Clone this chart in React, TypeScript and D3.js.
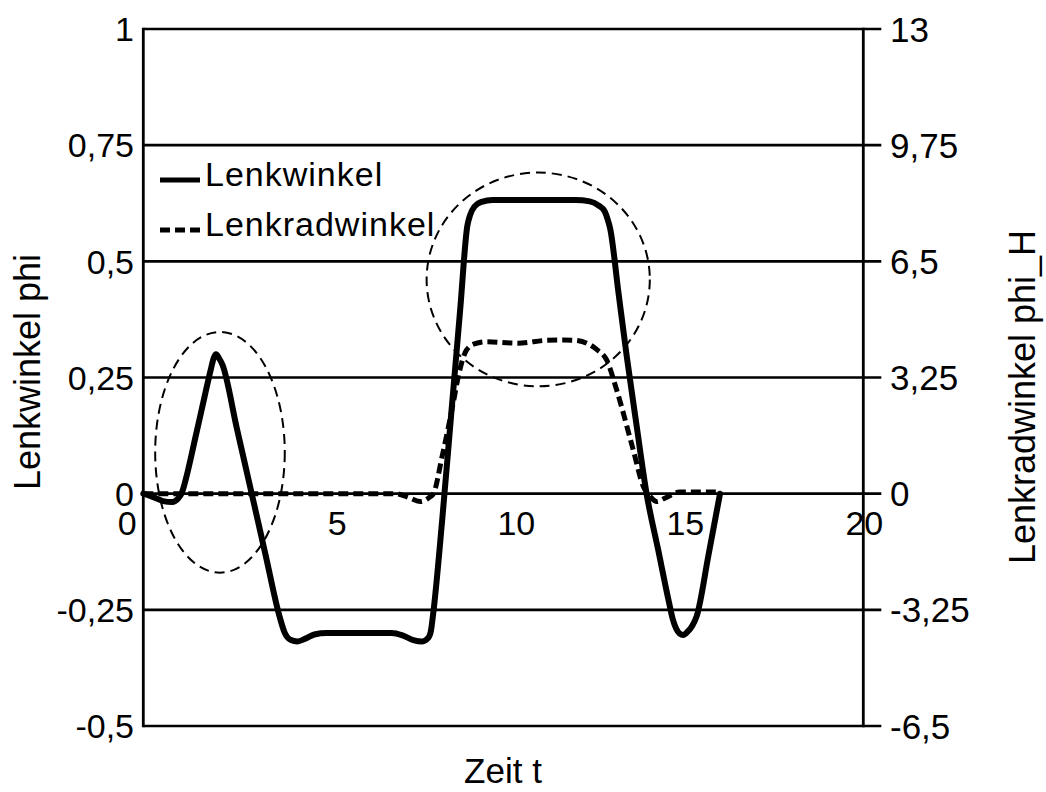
import React from "react";
import * as d3 from "d3";

// ---- data ----
const xTicks = [0, 5, 10, 15, 20];
const xTickLabels = ["0", "5", "10", "15", "20"];
const leftTicks = [-0.5, -0.25, 0, 0.25, 0.5, 0.75, 1];
const leftTickLabels = ["-0,5", "-0,25", "0", "0,25", "0,5", "0,75", "1"];
const rightTicks = [-6.5, -3.25, 0, 3.25, 6.5, 9.75, 13];
const rightTickLabels = ["-6,5", "-3,25", "0", "3,25", "6,5", "9,75", "13"];

// Lenkwinkel (left axis)
const lenkT = [0, 0.3, 0.55, 0.8, 0.97, 1.08, 1.2, 1.45, 1.7, 1.88, 1.96, 2.02, 2.1, 2.2, 2.6, 3.0, 3.4, 3.78, 3.92, 4.1, 4.28, 4.5, 4.75, 5.1, 6.9, 7.2, 7.5, 7.75, 7.92, 7.99, 8.05, 8.3, 8.55, 8.8, 9.0, 9.08, 9.2, 9.4, 9.7, 12.0, 12.4, 12.65, 12.82, 12.9, 12.97, 13.2, 13.43, 13.7, 13.98, 14.3, 14.6, 14.7, 14.8, 14.9, 15.0, 15.12, 15.25, 15.37, 15.7, 16.02];
const lenkV = [0, -0.008, -0.016, -0.018, -0.01, 0.004, 0.037, 0.122, 0.208, 0.269, 0.293, 0.3, 0.292, 0.277, 0.14, 0.004, -0.133, -0.263, -0.298, -0.315, -0.318, -0.312, -0.303, -0.3, -0.3, -0.305, -0.315, -0.318, -0.31, -0.295, -0.26, -0.059, 0.168, 0.394, 0.576, 0.6, 0.618, 0.628, 0.632, 0.632, 0.629, 0.62, 0.607, 0.59, 0.57, 0.432, 0.295, 0.148, 0.0, -0.12, -0.233, -0.268, -0.29, -0.301, -0.304, -0.297, -0.284, -0.264, -0.132, 0];

// Lenkradwinkel (right axis)
const radT = [0, 7.0, 7.4, 7.7, 7.95, 8.06, 8.3, 8.61, 8.75, 8.98, 9.2, 9.54, 10.4, 11.2, 11.67, 12.0, 12.32, 12.6, 12.87, 13.15, 13.61, 13.89, 14.1, 14.26, 14.5, 14.9, 16.0];
const radV = [0, 0, -0.12, -0.22, -0.1, 0, 1.04, 2.54, 3.28, 4.02, 4.19, 4.25, 4.21, 4.29, 4.3, 4.29, 4.21, 4.03, 3.74, 2.9, 1.22, 0.2, -0.1, -0.22, -0.12, 0.05, 0.05];

// highlight ellipses (centre t, centre left value, radius t, radius value)
const ellipseT = [2.13, 10.97];
const ellipseV = [0.089, 0.461];
const ellipseRT = [1.8, 3.1];
const ellipseRV = [0.259, 0.23];

const legendLabels = ["Lenkwinkel", "Lenkradwinkel"];

// ---- layout ----
const W = 1046;
const H = 792;
const L = 143.3;
const R = 863.3;
const T = 29;
const B = 726;
const FONT = "'Liberation Sans', Arial, Helvetica, sans-serif";
const xLabelDx = [-16, 14, 13, 2, 1];

export default function App() {
  const x = d3.scaleLinear().domain([0, 20]).range([L, R]);
  const yL = d3.scaleLinear().domain([-0.5, 1]).range([B, T]);
  const yR = d3.scaleLinear().domain([-6.5, 13]).range([B, T]);

  const lenkData = lenkT.map((t, i) => [t, lenkV[i]] as [number, number]);
  const radData = radT.map((t, i) => [t, radV[i]] as [number, number]);

  const lineL = d3
    .line<[number, number]>()
    .x((d) => x(d[0]))
    .y((d) => yL(d[1]))
    .curve(d3.curveMonotoneX);
  const lineR = d3
    .line<[number, number]>()
    .x((d) => x(d[0]))
    .y((d) => yR(d[1]))
    .curve(d3.curveMonotoneX);

  return (
    <svg
      width={W}
      height={H}
      style={{ position: "absolute", left: 0, top: 0, display: "block", background: "#fff" }}
      fontFamily={FONT}
    >
      <rect x={0} y={0} width={W} height={H} fill="#fff" />
      {/* horizontal grid lines, extended as right ticks */}
      {leftTicks.map((v) => (
        <line key={"g" + v} x1={L} x2={R + 18} y1={yL(v)} y2={yL(v)} stroke="#000" strokeWidth={2.6} />
      ))}
      {/* axes */}
      <line x1={L} x2={L} y1={T - 1.3} y2={B + 1.3} stroke="#000" strokeWidth={2.8} />
      <line x1={R} x2={R} y1={T - 1.3} y2={B + 1.3} stroke="#000" strokeWidth={2.8} />

      {/* left tick labels */}
      {leftTicks.map((v, i) => (
        <text key={"lt" + v} x={134} y={yL(v)} dy="0.36em" textAnchor="end" fontSize={34}>
          {leftTickLabels[i]}
        </text>
      ))}
      {/* right tick labels */}
      {rightTicks.map((v, i) => (
        <text key={"rt" + v} x={890} y={yR(v)} dy="0.36em" textAnchor="start" fontSize={35}>
          {rightTickLabels[i]}
        </text>
      ))}
      {/* x tick labels */}
      {xTicks.map((t, i) => (
        <text key={"xt" + t} x={x(t) + xLabelDx[i]} y={535} textAnchor="middle" fontSize={34}>
          {xTickLabels[i]}
        </text>
      ))}

      {/* ellipses */}
      {ellipseT.map((t, i) => (
        <ellipse
          key={"e" + i}
          cx={x(t)}
          cy={yL(ellipseV[i])}
          rx={x(t + ellipseRT[i]) - x(t)}
          ry={yL(0) - yL(ellipseRV[i])}
          fill="none"
          stroke="#000"
          strokeWidth={2}
          strokeDasharray="10 6"
        />
      ))}

      {/* series */}
      <path d={lineR(radData) || ""} fill="none" stroke="#000" strokeWidth={5} strokeDasharray="10 5" />
      <path d={lineL(lenkData) || ""} fill="none" stroke="#000" strokeWidth={6} strokeLinejoin="round" strokeLinecap="round" />

      {/* legend */}
      <line x1={160} x2={200} y1={180} y2={180} stroke="#000" strokeWidth={5} />
      <text x={205} y={186} fontSize={34} letterSpacing={1}>
        {legendLabels[0]}
      </text>
      <line x1={160} x2={200} y1={230} y2={230} stroke="#000" strokeWidth={5} strokeDasharray="10 5" />
      <text x={205} y={236} fontSize={34} letterSpacing={1}>
        {legendLabels[1]}
      </text>

      {/* axis titles */}
      <text x={503} y={783} textAnchor="middle" fontSize={35}>
        Zeit t
      </text>
      <text transform={`translate(40,372) rotate(-90)`} textAnchor="middle" fontSize={36}>
        Lenkwinkel phi
      </text>
      <text transform={`translate(1035,397) rotate(-90)`} textAnchor="middle" fontSize={36}>
        Lenkradwinkel phi_H
      </text>
    </svg>
  );
}
